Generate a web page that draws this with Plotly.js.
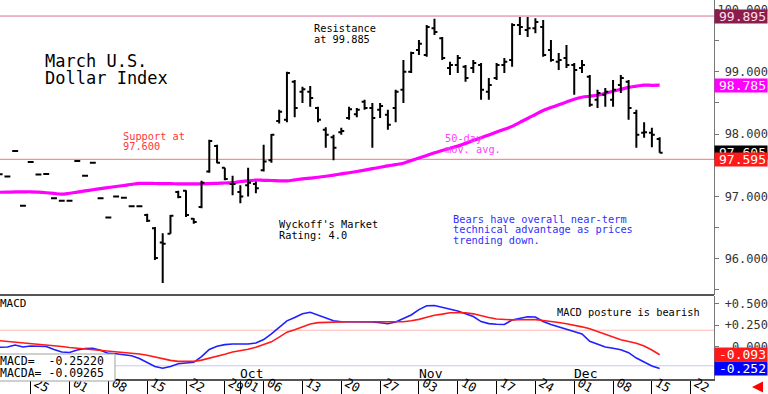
<!DOCTYPE html>
<html>
<head>
<meta charset="utf-8">
<script src="https://cdn.plot.ly/plotly-3.0.1.min.js"></script>
<style>html,body{margin:0;padding:0;background:#fff;}#chart{width:768px;height:394px;}</style>
</head>
<body>
<div id="chart"></div>
<script>
// ---------- DATA ----------
const dates = [
'2025-08-19','2025-08-20','2025-08-21','2025-08-22',
'2025-08-25','2025-08-26','2025-08-27','2025-08-28','2025-08-29',
'2025-09-01','2025-09-02','2025-09-03','2025-09-04','2025-09-05',
'2025-09-08','2025-09-09','2025-09-10','2025-09-11','2025-09-12',
'2025-09-15','2025-09-16','2025-09-17','2025-09-18','2025-09-19',
'2025-09-22','2025-09-23','2025-09-24','2025-09-25','2025-09-26',
'2025-09-29','2025-09-30',
'2025-10-01','2025-10-02','2025-10-03',
'2025-10-06','2025-10-07','2025-10-08','2025-10-09','2025-10-10',
'2025-10-13','2025-10-14','2025-10-15','2025-10-16','2025-10-17',
'2025-10-20','2025-10-21','2025-10-22','2025-10-23','2025-10-24',
'2025-10-27','2025-10-28','2025-10-29','2025-10-30','2025-10-31',
'2025-11-03','2025-11-04','2025-11-05','2025-11-06','2025-11-07',
'2025-11-10','2025-11-11','2025-11-12','2025-11-13','2025-11-14',
'2025-11-17','2025-11-18','2025-11-19','2025-11-20','2025-11-21',
'2025-11-24','2025-11-25','2025-11-26','2025-11-27','2025-11-28',
'2025-12-01','2025-12-02','2025-12-03','2025-12-04','2025-12-05',
'2025-12-08','2025-12-09','2025-12-10','2025-12-11','2025-12-12',
'2025-12-15','2025-12-16'];

const openP = [
97.355,97.32,97.73,96.85,97.55,97.35,97.36,96.97,96.93,96.93,
97.57,97.33,97.54,96.97,96.66,97.00,96.98,96.84,96.84,96.70,
96.49,96.26,96.40,97.07,97.09,96.64,96.83,97.40,97.81,97.46,
97.20,97.07,97.18,97.20,97.42,97.58,98.21,98.23,98.84,98.68,
98.68,98.42,98.07,97.95,98.03,98.26,98.32,98.52,98.42,98.39,
98.31,98.42,98.71,99.00,99.35,99.27,99.70,99.54,99.06,99.11,
99.08,99.06,99.11,98.68,98.90,99.11,99.19,99.75,99.67,99.70,
99.72,99.35,99.16,99.22,99.11,99.06,98.92,98.55,98.63,98.55,
98.79,98.84,98.34,98.02,98.02,97.92];
const highP = [
97.355,97.32,97.73,96.85,97.55,97.35,97.36,96.97,96.93,96.93,
97.57,97.33,97.54,96.97,96.66,97.00,96.98,96.84,96.84,96.72,
96.51,96.41,96.70,97.09,97.10,96.65,97.25,97.91,97.83,97.46,
97.33,97.18,97.46,97.24,97.83,98.00,98.39,99.00,98.87,98.76,
98.77,98.44,98.11,97.99,98.10,98.44,98.42,98.55,98.50,98.50,
98.39,98.71,99.19,99.32,99.51,99.75,99.85,99.56,99.16,99.27,
99.11,99.19,99.14,98.90,99.14,99.22,99.78,99.88,99.88,99.86,
99.83,99.51,99.30,99.43,99.14,99.19,98.95,98.71,98.74,98.87,
98.95,98.87,98.39,98.19,98.10,97.95];
const lowP = [
97.355,97.32,97.73,96.85,97.55,97.35,97.36,96.97,96.93,96.93,
97.57,97.33,97.54,96.97,96.66,97.00,96.98,96.84,96.84,96.59,
95.98,95.61,96.40,96.97,96.67,96.56,96.81,97.38,97.53,97.26,
97.02,96.89,97.00,97.05,97.40,97.54,98.17,98.19,98.27,98.50,
98.44,98.19,97.78,97.58,97.99,98.23,98.27,98.39,97.78,98.26,
98.07,98.19,98.50,98.98,99.27,99.24,99.59,99.19,98.95,98.98,
98.84,98.98,98.55,98.55,98.87,98.98,99.08,99.59,99.56,99.62,
99.24,99.16,99.03,99.06,98.63,98.98,98.44,98.42,98.44,98.44,
98.66,98.23,97.78,97.94,97.79,97.70];
const closeP = [
97.355,97.32,97.73,96.85,97.55,97.35,97.36,96.97,96.93,96.93,
97.57,97.33,97.54,96.97,96.66,97.00,96.98,96.84,96.84,96.61,
96.01,96.24,96.69,96.99,96.70,96.59,97.22,97.89,97.54,97.28,
97.20,97.00,97.22,97.13,97.56,97.99,98.36,98.98,98.42,98.72,
98.58,98.23,97.99,97.78,98.05,98.40,98.39,98.42,98.26,98.45,
98.15,98.68,99.00,99.30,99.45,99.72,99.64,99.22,99.11,99.22,
98.90,99.14,98.71,98.79,99.11,99.16,99.75,99.72,99.70,99.80,
99.27,99.19,99.19,99.11,99.03,99.11,98.47,98.66,98.68,98.71,
98.90,98.42,97.99,98.03,97.99,97.70];

const ma50 = [
97.066,97.067,97.071,97.072,97.074,97.067,97.058,97.047,97.035,97.050,
97.069,97.088,97.106,97.125,97.143,97.159,97.175,97.193,97.209,97.209,
97.207,97.205,97.204,97.202,97.201,97.201,97.201,97.205,97.210,97.215,
97.220,97.239,97.249,97.263,97.258,97.255,97.250,97.249,97.265,97.281,
97.294,97.307,97.323,97.342,97.361,97.380,97.400,97.422,97.445,97.467,
97.490,97.510,97.533,97.576,97.616,97.658,97.700,97.737,97.774,97.807,
97.851,97.896,97.941,97.987,98.032,98.077,98.124,98.188,98.250,98.315,
98.379,98.425,98.470,98.515,98.560,98.592,98.608,98.624,98.655,98.687,
98.719,98.751,98.769,98.787,98.783,98.785];

const macd = [
-0.007,-0.003,0.020,-0.003,0.008,0.008,0.002,-0.032,-0.061,-0.067,
-0.038,-0.021,-0.018,-0.042,-0.077,-0.082,-0.091,-0.105,-0.136,-0.181,
-0.228,-0.248,-0.228,-0.196,-0.185,-0.180,-0.115,-0.032,0.006,0.024,
0.031,0.031,0.031,0.043,0.082,0.147,0.223,0.298,0.337,0.381,
0.397,0.366,0.328,0.300,0.288,0.288,0.291,0.293,0.285,0.277,
0.265,0.285,0.323,0.366,0.428,0.473,0.475,0.456,0.434,0.412,
0.379,0.348,0.290,0.266,0.259,0.256,0.308,0.331,0.345,0.343,
0.291,0.257,0.230,0.202,0.175,0.146,0.062,0.025,-0.003,-0.018,
-0.035,-0.069,-0.131,-0.177,-0.223,-0.252];
const macdAvg = [
0.069,0.061,0.052,0.044,0.039,0.032,0.024,0.014,0.003,-0.009,
-0.017,-0.029,-0.036,-0.043,-0.048,-0.056,-0.066,-0.074,-0.085,-0.099,
-0.120,-0.141,-0.158,-0.169,-0.173,-0.169,-0.155,-0.134,-0.113,-0.087,
-0.062,-0.047,-0.029,-0.007,0.023,0.056,0.110,0.168,0.196,0.233,
0.262,0.278,0.282,0.284,0.285,0.287,0.288,0.288,0.288,0.283,
0.281,0.284,0.288,0.300,0.315,0.340,0.363,0.376,0.392,0.392,
0.392,0.379,0.355,0.336,0.320,0.314,0.309,0.311,0.315,0.312,
0.303,0.295,0.280,0.265,0.251,0.229,0.206,0.176,0.144,0.110,
0.079,0.060,0.039,0.007,-0.038,-0.093];

const resistanceLevel = 99.895;
const supportLevel = 97.595;
const macdRefLevels = [0.19, -0.22];

const tickDates = ['2025-08-25','2025-09-01','2025-09-08','2025-09-15','2025-09-22','2025-09-29',
  '2025-10-01','2025-10-06','2025-10-13','2025-10-20','2025-10-27','2025-11-03','2025-11-10',
  '2025-11-17','2025-11-24','2025-12-01','2025-12-08','2025-12-15','2025-12-22'];
const tickLabels = ['25','01','08','15','22','29','01','06','13','20','27','03','10','17','24','01','08','15','22'];
const monthLabels = ['Oct','Nov','Dec'];
const monthDates = ['2025-10-01','2025-11-03','2025-12-01'];

const priceTicks = [96, 97, 98, 99, 100];
const macdTicks = [0.5, 0.25, 0];
const macdTickLabels = ['+0.500','+0.250','0.000'];

const priceTags = [
  {v: 99.895, bg: '#8C1C4B', fg: '#FFE0EC', shift: 0},
  {v: 98.785, bg: '#FF00FF', fg: '#FFFFFF', shift: 0},
  {v: 97.605, bg: '#000000', fg: '#FFFFFF', shift: 6},
  {v: 97.595, bg: '#FF1A1A', fg: '#FFFFFF', shift: 0}
];
const macdTags = [
  {v: -0.093, bg: '#FF1A1A', fg: '#FFFFFF'},
  {v: -0.252, bg: '#0000FF', fg: '#FFFFFF'}
];
const macdBoxText = ['MACD=\u00A0\u00A0-0.25220', 'MACDA=\u00A0-0.09265'];

// ---------- LAYOUT HELPERS ----------
const W = 768, PH = 379;           // plot area height (394 - bottom margin)
const MONO = 'DejaVu Sans Mono, Liberation Mono, monospace';
const XD = 714 / W;                // x domain end
const mid = d => d + ' 12:00';
const xs = dates.map(mid);
const xRange = ['2025-08-19 13:06', '2025-12-25 12:00'];
const SEP = 295;                   // pixel row of the panel separator

function ann(x, y, text, size, color, extra) {
  return Object.assign({xref: 'paper', yref: 'paper', x: x / W, y: (PH - y) / PH,
    xanchor: 'left', yanchor: 'middle', text: text, showarrow: false,
    font: {family: MONO, size: size, color: color}}, extra || {});
}

const traces = [
  {type: 'scatter', mode: 'lines', x: xs, y: ma50, xaxis: 'x', yaxis: 'y',
   line: {color: '#FF00FF', width: 3.2, shape: 'spline'}, hoverinfo: 'skip'},
  {type: 'ohlc', x: xs, open: openP, high: highP, low: lowP, close: closeP,
   xaxis: 'x', yaxis: 'y3', tickwidth: 0.38,
   increasing: {line: {color: '#000', width: 2}}, decreasing: {line: {color: '#000', width: 2}},
   hoverinfo: 'skip'},
  {type: 'scatter', mode: 'lines', x: xs, y: macd, xaxis: 'x', yaxis: 'y2',
   line: {color: '#1F1FFF', width: 1.6}, hoverinfo: 'skip'},
  {type: 'scatter', mode: 'lines', x: xs, y: macdAvg, xaxis: 'x', yaxis: 'y4',
   line: {color: '#FF1A1A', width: 1.6}, hoverinfo: 'skip'}
];

const shapes = [
  {type: 'line', xref: 'paper', yref: 'y', x0: 0, x1: XD, y0: resistanceLevel, y1: resistanceLevel,
   line: {color: '#D8709A', width: 1}, layer: 'below'},
  {type: 'line', xref: 'paper', yref: 'y', x0: 0, x1: XD, y0: supportLevel, y1: supportLevel,
   line: {color: '#F07878', width: 1}, layer: 'below'},
  {type: 'line', xref: 'paper', yref: 'y2', x0: 0, x1: XD, y0: macdRefLevels[0], y1: macdRefLevels[0],
   line: {color: '#FFB8B8', width: 1}, layer: 'below'},
  {type: 'line', xref: 'paper', yref: 'y2', x0: 0, x1: XD, y0: macdRefLevels[1], y1: macdRefLevels[1],
   line: {color: '#C8C8FF', width: 1}, layer: 'below'},
  {type: 'line', xref: 'paper', yref: 'paper', x0: 0, x1: XD, y0: (PH - SEP) / PH, y1: (PH - SEP) / PH,
   line: {color: '#555555', width: 2}, layer: 'above'},
  {type: 'rect', xref: 'paper', yref: 'paper', x0: -2 / W, x1: 115 / W, y0: (PH - 381) / PH, y1: (PH - 354) / PH,
   line: {color: '#A0A0A0', width: 1}, fillcolor: '#FFFFFF', layer: 'above'}
];

const annotations = [
  ann(43, 61, 'March U.S.', 17, '#000'),
  ann(43, 78, 'Dollar Index', 17, '#000'),
  ann(312, 28, 'Resistance', 10.3, '#000'),
  ann(312, 38.5, 'at 99.885', 10.3, '#000'),
  ann(121, 136, 'Support at', 10.3, '#FF3838'),
  ann(121, 146.5, '97.600', 10.3, '#FF3838'),
  ann(443, 138, '50-day', 10.3, '#FF40FF'),
  ann(443, 149, 'mov. avg.', 10.3, '#FF40FF'),
  ann(277, 224, "Wyckoff's Market", 10.3, '#000'),
  ann(277, 234.5, 'Rating: 4.0', 10.3, '#000'),
  ann(451, 219, 'Bears have overall near-term', 10.3, '#3030FF'),
  ann(451, 229, 'technical advantage as prices', 10.3, '#3030FF'),
  ann(451, 239.5, 'trending down.', 10.3, '#3030FF'),
  ann(555, 311.5, 'MACD posture is bearish', 10.3, '#000'),
  ann(-2, 303, 'MACD', 11, '#000'),
  ann(-2, 361, macdBoxText[0], 11.5, '#000'),
  ann(-2, 373, macdBoxText[1], 11.5, '#000'),
  {xref: 'paper', yref: 'paper', x: 752 / W, y: (PH - 387) / PH, ax: 12, ay: 0, axref: 'pixel', ayref: 'pixel',
   text: '', showarrow: true, arrowhead: 2, arrowsize: 1, arrowwidth: 2.2, arrowcolor: '#FF0000'}
];
monthLabels.forEach((m, i) => annotations.push({xref: 'x', yref: 'paper', x: mid(monthDates[i]), y: (PH - 373.5) / PH,
  xanchor: 'left', yanchor: 'middle', text: m, showarrow: false, xshift: -2,
  font: {family: MONO, size: 13, color: '#000'}}));
priceTags.forEach(t => annotations.push({xref: 'paper', yref: 'y', x: 1, y: t.v, xanchor: 'right', yanchor: 'middle',
  text: t.v.toFixed(3), showarrow: false, bgcolor: t.bg, width: 50, height: 11, borderpad: 1, align: 'right',
  yshift: t.shift, font: {family: MONO, size: 13, color: t.fg}}));
macdTags.forEach(t => annotations.push({xref: 'paper', yref: 'y2', x: 1, y: t.v, xanchor: 'right', yanchor: 'middle',
  text: t.v.toFixed(3), showarrow: false, bgcolor: t.bg, width: 50, height: 11, borderpad: 1, align: 'right',
  font: {family: MONO, size: 13, color: t.fg}}));

const priceRange = [95.417, 100.1525];
const macdRange = [-0.3725, 0.5848];

const layout = {
  width: 768, height: 394,
  margin: {l: 0, r: 0, t: 0, b: 15, pad: 0, autoexpand: false},
  paper_bgcolor: '#FFFFFF', plot_bgcolor: '#FFFFFF',
  showlegend: false, hovermode: false,
  xaxis: {domain: [0, XD], anchor: 'y2', type: 'date', range: xRange, rangebreaks: [{bounds: ['sat', 'mon']}],
    tickmode: 'array', tickvals: tickDates.map(mid), ticktext: tickLabels,
    ticks: 'outside', ticklen: 15, tickwidth: 1, tickcolor: '#000',
    ticklabelposition: 'outside right', ticklabelstandoff: -10, ticklabelshift: 4, ticklabeloverflow: 'allow',
    tickfont: {family: MONO, size: 12.5, color: '#000'},
    showline: true, linecolor: '#555', linewidth: 2, showgrid: false, zeroline: false},
  yaxis: {domain: [(PH - SEP) / PH, 1], anchor: 'x', side: 'right', range: priceRange,
    showline: true, linecolor: '#777', linewidth: 1, ticks: 'outside', ticklen: 4, tickcolor: '#777',
    tick0: 0, dtick: 0.5, showticklabels: false, showgrid: false, zeroline: false},
  yaxis3: {overlaying: 'y', anchor: 'free', position: 1, side: 'left', range: priceRange,
    tickmode: 'array', tickvals: priceTicks, tickformat: '.3f',
    ticklabeloverflow: 'allow', ticks: '', showline: false, showgrid: false, zeroline: false,
    tickfont: {family: MONO, size: 12, color: '#333'}},
  yaxis2: {domain: [0, (PH - SEP - 1) / PH], anchor: 'x', side: 'right', range: macdRange,
    showline: true, linecolor: '#777', linewidth: 1, ticks: 'outside', ticklen: 4, tickcolor: '#777',
    tick0: 0, dtick: 0.25, showticklabels: false, showgrid: false, zeroline: false},
  yaxis4: {overlaying: 'y2', anchor: 'free', position: 1, side: 'left', range: macdRange,
    tickmode: 'array', tickvals: macdTicks, ticktext: macdTickLabels,
    ticklabeloverflow: 'allow', ticks: '', showline: false, showgrid: false, zeroline: false,
    tickfont: {family: MONO, size: 12, color: '#333'}},
  shapes: shapes,
  annotations: annotations
};

Plotly.newPlot('chart', traces, layout, {staticPlot: true, displayModeBar: false});
</script>
</body>
</html>
